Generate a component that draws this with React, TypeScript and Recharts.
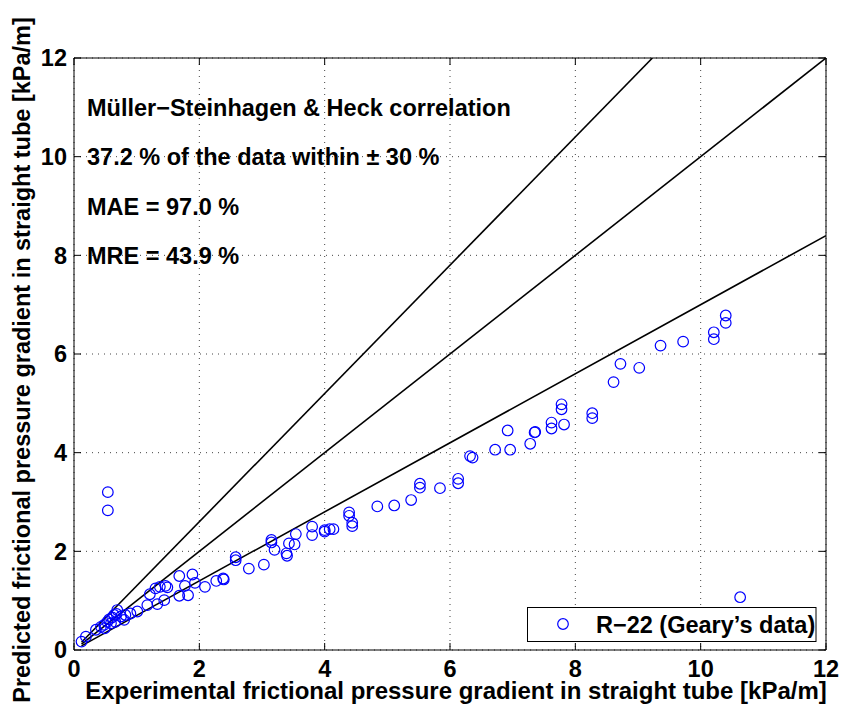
import React from 'react';
import { ScatterChart, Scatter, XAxis, YAxis, CartesianGrid } from 'recharts';

const xTicks = [0, 2, 4, 6, 8, 10, 12];
const yTicks = [0, 2, 4, 6, 8, 10, 12];

const expX = [
  0.12, 0.19, 0.35, 0.43, 0.48, 0.49, 0.53, 0.56, 0.59, 0.61, 0.64, 0.66, 0.68, 0.69, 0.75, 0.8, 0.82, 0.9, 1.01,
  1.17, 1.21, 1.3, 1.33, 1.37, 1.44, 1.46, 1.49, 1.68, 1.68, 1.77, 1.82, 1.89, 1.93, 2.09, 2.27, 2.38, 2.39,
  2.58, 2.58, 2.79, 3.03, 3.15, 3.15, 3.2, 3.39, 3.4, 3.43, 3.52, 3.54, 3.8, 3.8, 4.0, 4.0, 4.08, 4.14,
  4.39, 4.39, 4.44, 4.44, 4.84, 5.11, 5.38, 5.52, 5.52, 5.84, 6.13, 6.13, 6.32, 6.36, 6.72, 6.92, 6.96,
  7.28, 7.35, 7.36, 7.62, 7.62, 7.78, 7.78, 7.82, 8.27, 8.27, 8.61, 8.72, 9.02, 9.36, 9.72, 10.21, 10.21,
  10.4, 10.4, 0.54, 0.54, 10.63,
];
const predY = [
  0.17, 0.27, 0.41, 0.47, 0.51, 0.44, 0.57, 0.62, 0.54, 0.66, 0.71, 0.57, 0.73, 0.81, 0.68, 0.61, 0.71, 0.74, 0.78,
  0.91, 1.13, 1.25, 0.93, 1.28, 1.01, 1.3, 1.27, 1.5, 1.1, 1.3, 1.11, 1.53, 1.36, 1.28, 1.4, 1.45, 1.43,
  1.88, 1.82, 1.65, 1.73, 2.23, 2.18, 2.03, 1.96, 1.91, 2.16, 2.14, 2.35, 2.5, 2.33, 2.43, 2.4, 2.45, 2.45,
  2.79, 2.72, 2.58, 2.51, 2.91, 2.93, 3.04, 3.37, 3.29, 3.28, 3.47, 3.38, 3.93, 3.9, 4.06, 4.45, 4.06,
  4.18, 4.41, 4.42, 4.61, 4.49, 4.98, 4.88, 4.57, 4.8, 4.7, 5.43, 5.8, 5.72, 6.17, 6.25, 6.44, 6.3,
  6.78, 6.63, 3.2, 2.83, 1.07,
];

const lineX = [0.12, 12];
const lineY = [0.12, 12];
const upperX = [0.12, 9.23];
const upperY = [0.156, 12];
const lowerX = [0.12, 12];
const lowerY = [0.084, 8.4];

const annotations = [
  'Müller−Steinhagen & Heck correlation',
  '37.2 % of the data within ± 30 %',
  'MAE = 97.0 %',
  'MRE = 43.9 %',
];
const xLabel = 'Experimental frictional pressure gradient in straight tube [kPa/m]';
const yLabel = 'Predicted frictional pressure gradient in straight tube [kPa/m]';
const legendLabel = 'R−22 (Geary’s data)';

const zip = (xs: number[], ys: number[]) => xs.map((x, i) => ({ x, y: ys[i] }));
const points = zip(expX, predY);
const diag = zip(lineX, lineY);
const upper = zip(upperX, upperY);
const lower = zip(lowerX, lowerY);

const FONT = '"Liberation Sans", Arial, Helvetica, sans-serif';
const textStyle = { fontFamily: FONT, fontWeight: 700, fontSize: 23.5, fill: '#000' };
const labelStyle = { ...textStyle, fontSize: 24 };

const Circle = (p: any) => (
  <circle cx={p.cx} cy={p.cy} r={5.3} fill="none" stroke="#0000ff" strokeWidth={1.2} />
);
const NoShape = () => <g />;
const Empty = () => <g />;

export default function App() {
  return (
    <div style={{ position: 'absolute', left: 0, top: 0, width: 841, height: 709, background: '#fff' }}>
      <ScatterChart width={841} height={709} margin={{ top: 57, right: 14, bottom: 19, left: 24 }}>
        <CartesianGrid stroke="#444" strokeDasharray="1 5" strokeWidth={1} />
        <XAxis
          type="number"
          dataKey="x"
          domain={[0, 12]}
          ticks={xTicks}
          allowDataOverflow
          height={40}
          stroke="#000"
          tickSize={-7}
          tickMargin={17}
          tick={textStyle}
        />
        <XAxis
          xAxisId="top"
          orientation="top"
          type="number"
          dataKey="x"
          domain={[0, 12]}
          ticks={xTicks}
          allowDataOverflow
          height={1}
          stroke="#000"
          tickSize={-7}
          tick={Empty}
        />
        <YAxis
          type="number"
          dataKey="y"
          domain={[0, 12]}
          ticks={yTicks}
          allowDataOverflow
          width={50}
          stroke="#000"
          tickSize={-7}
          tickMargin={14}
          tick={textStyle}
        />
        <YAxis
          yAxisId="right"
          orientation="right"
          type="number"
          dataKey="y"
          domain={[0, 12]}
          ticks={yTicks}
          allowDataOverflow
          width={1}
          stroke="#000"
          tickSize={-7}
          tick={Empty}
        />
        <Scatter data={upper} line={{ stroke: '#000', strokeWidth: 1.6 }} shape={NoShape} isAnimationActive={false} />
        <Scatter data={diag} line={{ stroke: '#000', strokeWidth: 1.6 }} shape={NoShape} isAnimationActive={false} />
        <Scatter data={lower} line={{ stroke: '#000', strokeWidth: 1.6 }} shape={NoShape} isAnimationActive={false} />
        <Scatter data={points} shape={Circle} isAnimationActive={false} />
        <text x={456} y={699} textAnchor="middle" style={labelStyle}>
          {xLabel}
        </text>
        <text x={22} y={360} transform="rotate(-90 22 360)" textAnchor="middle" dominantBaseline="central" style={textStyle}>
          {yLabel}
        </text>
        {annotations.map((t, i) => (
          <text key={i} x={87} y={108 + i * 49.4} dominantBaseline="central" style={textStyle}>
            {t}
          </text>
        ))}
        <rect x={527.5} y={607.5} width={288.5} height={34} fill="#fff" stroke="#000" strokeWidth={1} />
        <circle cx={563} cy={624} r={5.3} fill="none" stroke="#0000ff" strokeWidth={1.2} />
        <text x={596} y={625} dominantBaseline="central" style={textStyle}>
          {legendLabel}
        </text>
      </ScatterChart>
    </div>
  );
}
